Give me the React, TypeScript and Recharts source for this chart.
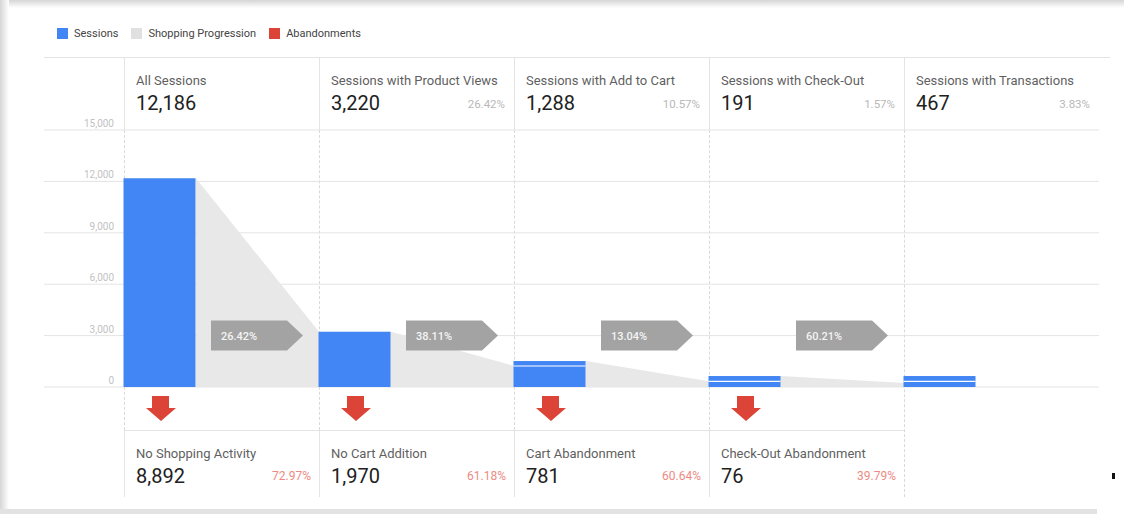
import { ComposedChart, Bar, Area, Scatter, XAxis, YAxis, CartesianGrid } from "recharts";

// funnel stages (top row)
const stages = [
  "All Sessions",
  "Sessions with Product Views",
  "Sessions with Add to Cart",
  "Sessions with Check-Out",
  "Sessions with Transactions",
];
const stageSessions = [12186, 3220, 1288, 191, 467];
const stageShares = ["", "26.42%", "10.57%", "1.57%", "3.83%"];

// bar split: carried over from the previous step / joined at this step
const carriedSessions = [12186, 3220, 1227, 330, 330];
const joinedSessions = [0, 0, 288, 310, 310];

// grey progression band: where it lands on the next bar
const progressionIn = [3220, 1227, 330, 240];
const progressionRates = ["26.42%", "38.11%", "13.04%", "60.21%"];

// abandonment row
const abandonments = ["No Shopping Activity", "No Cart Addition", "Cart Abandonment", "Check-Out Abandonment"];
const abandonCounts = [8892, 1970, 781, 76];
const abandonRates = ["72.97%", "61.18%", "60.64%", "39.79%"];

const yTicks = [0, 3000, 6000, 9000, 12000, 15000];

const BLUE = "#4285f4";
const GREY = "#e8e8e8";
const RED = "#db4437";
const LINE = "#e4e4e4";

const COL_LEFT = 124;
const COL_W = 195;
const BAR_W = 72;
const BAR_FRAC = BAR_W / COL_W;
const X_DOMAIN: [number, number] = [-(COL_LEFT - 44) / COL_W, 5];

const barRows = stages.map((name, i) => ({
  x: i + BAR_FRAC / 2,
  name,
  carried: carriedSessions[i],
  joined: joinedSessions[i],
}));

const flowRows = progressionIn.flatMap((v, i) => [
  { x: i + BAR_FRAC, v: carriedSessions[i] + joinedSessions[i] },
  { x: i + 1, v },
]);

const rateRows = progressionRates.map((rate, i) => ({ x: i + 87 / COL_W, y: 3000, rate }));

const fmt = (n: number) => n.toLocaleString("en-US");

function YTick({ y, payload }: any) {
  return (
    <text x={114} y={y - 3} textAnchor="end" fontSize={10} fill="#c2c2c2" fontFamily="Roboto">
      {fmt(payload.value)}
    </text>
  );
}

function JoinedShape(p: any) {
  if (!p.height || p.height <= 0) return null;
  return (
    <g>
      <rect x={p.x} y={p.y} width={p.width} height={p.height} fill={BLUE} />
      <line x1={p.x} x2={p.x + p.width} y1={p.y + p.height} y2={p.y + p.height} stroke="#fff" strokeWidth={1.2} />
    </g>
  );
}

function RateTag({ cx, cy, payload }: any) {
  const w = 76, tip = 16, h = 30;
  const pts = `${cx},${cy - h / 2} ${cx + w},${cy - h / 2} ${cx + w + tip},${cy} ${cx + w},${cy + h / 2} ${cx},${cy + h / 2}`;
  return (
    <g>
      <polygon points={pts} fill="#a3a3a3" />
      <text x={cx + 10} y={cy + 4} fontSize={11} fontWeight={500} fill="#f4f4f4" fontFamily="Roboto">
        {payload.rate}
      </text>
    </g>
  );
}

const legendItems = [
  { label: "Sessions", color: BLUE },
  { label: "Shopping Progression", color: "#e0e0e0" },
  { label: "Abandonments", color: RED },
];

const abs = (left: number, top: number, extra: React.CSSProperties = {}): React.CSSProperties => ({
  position: "absolute",
  left,
  top,
  ...extra,
});

export default function App() {
  return (
    <div
      style={{
        position: "absolute",
        left: 0,
        top: 0,
        width: 1124,
        height: 514,
        background: "#fff",
        fontFamily: "Roboto, sans-serif",
        overflow: "hidden",
      }}
    >
      {/* card shadow edges */}
      <div style={abs(0, 0, { width: 1124, height: 8, background: "linear-gradient(#d6d6d6, #fff)" })} />
      <div style={abs(0, 0, { width: 9, height: 514, background: "linear-gradient(90deg, #d6d6d6, #fff)" })} />
      <div style={abs(0, 509, { width: 1097, height: 5, background: "#e2e2e2" })} />
      <div style={abs(1112, 473, { width: 3, height: 6, background: "#111" })} />

      {/* legend */}
      <div style={abs(57, 27, { display: "flex", alignItems: "center", fontSize: 11, color: "#444" })}>
        {legendItems.map((it) => (
          <div key={it.label} style={{ display: "flex", alignItems: "center", marginRight: 13 }}>
            <span style={{ width: 11, height: 11, background: it.color, marginRight: 6 }} />
            <span>{it.label}</span>
          </div>
        ))}
      </div>

      {/* table lines */}
      <div style={abs(44, 57, { width: 1066, height: 1, background: LINE })} />
      <div style={abs(COL_LEFT, 430, { width: COL_W * 4, height: 1, background: LINE })} />
      {stages.map((_, i) => (
        <div key={"h" + i}>
          <div style={abs(COL_LEFT + i * COL_W, 57, { width: 1, height: 73, background: LINE })} />
          <div
            style={abs(COL_LEFT + i * COL_W, 130, {
              height: i === 4 ? 367 : 300,
              borderLeft: "1px dashed #d9d9d9",
            })}
          />
          {i < 4 && <div style={abs(COL_LEFT + i * COL_W, 430, { width: 1, height: 67, background: LINE })} />}
        </div>
      ))}

      {/* header cells */}
      {stages.map((name, i) => {
        const left = COL_LEFT + i * COL_W;
        return (
          <div key={name}>
            <div style={abs(left + 12, 73, { fontSize: 13, lineHeight: "16px", color: "#5f5f5f", whiteSpace: "nowrap" })}>
              {name}
            </div>
            <div style={abs(left + 12, 91, { fontSize: 20, lineHeight: "24px", color: "#212121" })}>
              {fmt(stageSessions[i])}
            </div>
            {stageShares[i] && (
              <div style={abs(left, 97, { width: COL_W - 9, textAlign: "right", fontSize: 11.5, lineHeight: "14px", color: "#b8b8b8" })}>
                {stageShares[i]}
              </div>
            )}
          </div>
        );
      })}

      {/* abandonment cells */}
      {abandonments.map((name, i) => {
        const left = COL_LEFT + i * COL_W;
        return (
          <div key={name}>
            <svg style={abs(left + 22, 396)} width={30} height={26}>
              <polygon points="6,0 23,0 23,12 30,12 15,25 0,12 6,12" fill={RED} />
            </svg>
            <div style={abs(left + 12, 446, { fontSize: 13, lineHeight: "16px", color: "#5f5f5f", whiteSpace: "nowrap" })}>
              {name}
            </div>
            <div style={abs(left + 12, 464, { fontSize: 20, lineHeight: "24px", color: "#212121" })}>
              {fmt(abandonCounts[i])}
            </div>
            <div style={abs(left, 469, { width: COL_W - 8, textAlign: "right", fontSize: 12, lineHeight: "14px", color: "#ee8a82" })}>
              {abandonRates[i]}
            </div>
          </div>
        );
      })}

      <ComposedChart
        width={1124}
        height={514}
        data={barRows}
        margin={{ top: 130, right: 25, bottom: 127, left: 43 }}
        style={{ position: "absolute", left: 0, top: 0 }}
      >
        <CartesianGrid xAxisId="bars" vertical={false} stroke={LINE} />
        <XAxis xAxisId="bars" type="number" dataKey="x" domain={X_DOMAIN} hide />
        <XAxis xAxisId="flow" type="number" dataKey="x" domain={X_DOMAIN} hide />
        <YAxis
          type="number"
          domain={[0, 15000]}
          ticks={yTicks}
          interval={0}
          width={1}
          axisLine={false}
          tickLine={false}
          tick={YTick}
        />
        <Area
          xAxisId="flow"
          data={flowRows}
          dataKey="v"
          type="linear"
          stroke="none"
          fill={GREY}
          fillOpacity={1}
          isAnimationActive={false}
        />
        <Bar xAxisId="bars" dataKey="carried" stackId="s" barSize={BAR_W} fill={BLUE} isAnimationActive={false} />
        <Bar
          xAxisId="bars"
          dataKey="joined"
          stackId="s"
          barSize={BAR_W}
          fill={BLUE}
          shape={JoinedShape}
          isAnimationActive={false}
        />
        <Scatter xAxisId="flow" data={rateRows} dataKey="y" shape={RateTag} isAnimationActive={false} />
      </ComposedChart>
    </div>
  );
}
